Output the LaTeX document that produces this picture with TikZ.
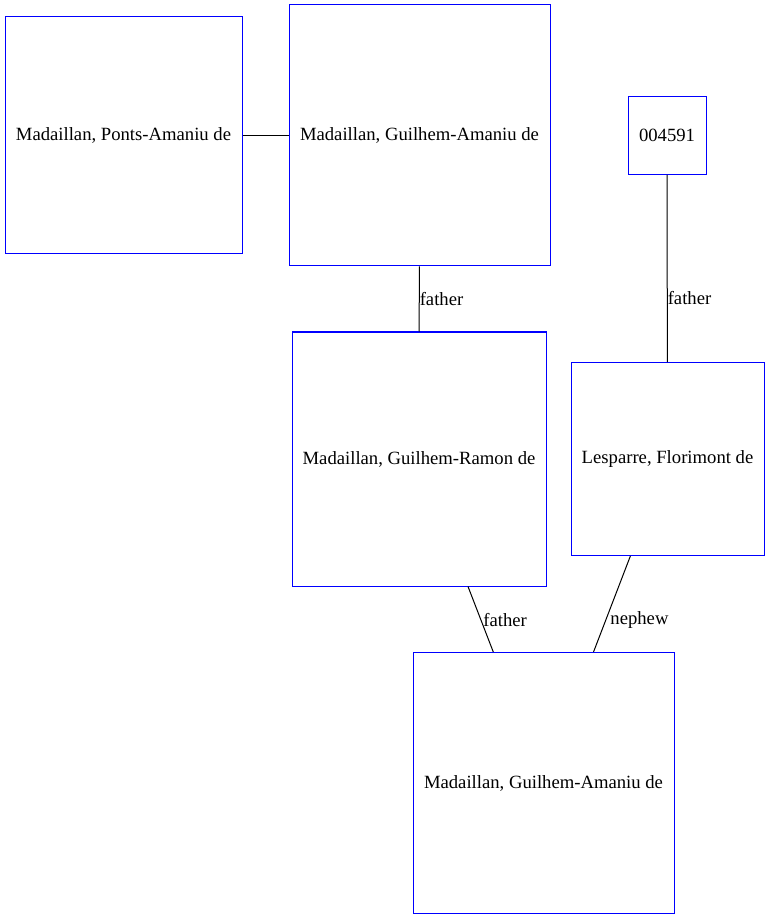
\documentclass[tikz,border=0pt]{standalone}
\usepackage{fontspec}
\setmainfont{Liberation Serif}

\begin{document}
\begin{tikzpicture}[x=0.75pt,y=-0.75pt]
                        \tikzstyle{person}=[draw=blue,line width=0.75pt,font=\fontsize{14}{16}\selectfont,inner sep=0pt]
                        \tikzstyle{rel}=[draw=black,line width=0.75pt]
                        \tikzstyle{lbl}=[right,inner sep=0pt,font=\fontsize{14}{16}\selectfont]
                        \useasboundingbox (0,0) rectangle (769,919);
                        \node[person,minimum width=177.75pt,minimum height=177.75pt] (ponts) at (123.5,135.5) {Madaillan, Ponts-Amaniu de};
                        \node[person,minimum width=195.75pt,minimum height=195.75pt] (guilhemA) at (419.5,135.5) {Madaillan, Guilhem-Amaniu de};
                        \node[person,minimum width=58.5pt,minimum height=58.5pt] (id) at (667,135.5) {004591};
                        \node[person,minimum width=190.5pt,minimum height=190.5pt] (guilhemR) at (419,459) {Madaillan, Guilhem-Ramon de};
                        \node[person,minimum width=144.75pt,minimum height=144.75pt] (florimont) at (667.5,459) {Lesparre, Florimont de};
                        \node[person,minimum width=195.75pt,minimum height=195.75pt] (guilhemB) at (543.5,783) {Madaillan, Guilhem-Amaniu de};
                        \draw[rel] (ponts) -- (guilhemA);
                        \draw[rel] (guilhemA) -- node[lbl,pos=0.5] {father} (guilhemR);
                        \draw[rel] (id) -- node[lbl,pos=0.66] {father} (florimont);
                        \draw[rel] (guilhemR) -- node[lbl,pos=0.507,xshift=1.5pt] {father} (guilhemB);
                        \draw[rel] (florimont) -- node[lbl,pos=0.663,xshift=3pt] {nephew} (guilhemB);
\end{tikzpicture}
\end{document}
